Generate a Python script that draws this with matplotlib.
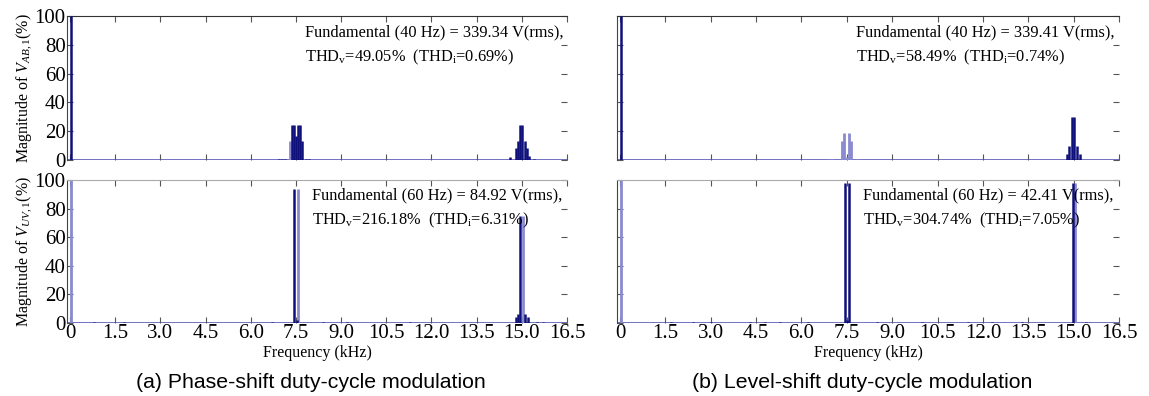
import numpy as np
import matplotlib.pyplot as plt

plt.rcParams['font.family'] = 'Liberation Serif'
plt.rcParams['mathtext.fontset'] = 'custom'
plt.rcParams['mathtext.rm'] = 'Liberation Serif'
plt.rcParams['mathtext.it'] = 'Liberation Serif:italic'

# spectra: frequency (kHz), magnitude (%), shade (1 = dark, 0 = light)
# (a) phase-shift, V_AB
fA_top = [0.04, 6.95, 7.05, 7.15, 7.30, 7.38, 7.43, 7.50, 7.57, 7.62, 7.70, 7.85, 7.95,
          14.60, 14.80, 14.88, 14.95, 15.02, 15.10, 15.18, 15.25, 15.40]
mA_top = [100, 1, 1, 1, 13, 24, 24, 17, 24, 24, 13, 1, 1,
          2, 8, 13, 24, 24, 13, 8, 3, 1]
sA_top = [1, 1, 1, 1, 0, 1, 1, 1, 1, 1, 1, 1, 1,
          1, 1, 1, 1, 1, 1, 1, 1, 1]
# (b) level-shift, V_AB
fB_top = [0.04, 6.90, 7.00, 7.33, 7.40, 7.50, 7.58, 7.64, 7.80, 7.90,
          14.78, 14.86, 14.96, 15.02, 15.12, 15.20]
mB_top = [100, 1, 1, 13, 19, 2, 19, 13, 1, 1,
          4, 10, 30, 30, 10, 4]
sB_top = [1, 0, 0, 0, 0, 0, 0, 0, 0, 0,
          1, 1, 1, 1, 1, 1]
# (a) phase-shift, V_UV
fA_bot = [0.04, 0.8, 1.8, 6.7, 7.45, 7.52, 7.57, 8.4, 9.2, 11.3,
          14.80, 14.88, 14.95, 15.03, 15.10, 15.20, 15.50, 15.70]
mA_bot = [100, 1, 1, 1, 94, 2, 94, 1, 1, 1,
          4, 6, 75, 75, 6, 4, 1, 1]
sA_bot = [0, 1, 1, 1, 1, 1, 0, 1, 1, 1,
          1, 1, 1, 0, 1, 1, 1, 1]
# (b) level-shift, V_UV
fB_bot = [0.04, 1.7, 2.4, 3.0, 4.3, 4.8, 5.3, 6.2, 7.45, 7.52, 7.58, 8.5,
          10.0, 11.5, 12.3, 13.3, 14.97, 15.03, 15.40]
mB_bot = [100, 1, 1, 1, 1, 1, 1, 1, 98, 2, 98, 1,
          1, 1, 1, 1, 98, 98, 1]
sB_bot = [0, 1, 1, 1, 1, 1, 1, 1, 1, 1, 1, 1,
          1, 1, 1, 1, 1, 0, 1]

notes_top = [("Fundamental (40 Hz) = 339.34 V(rms),", r"THD$_{\mathrm{v}}$=49.05%  (THD$_{\mathrm{i}}$=0.69%)"),
             ("Fundamental (40 Hz) = 339.41 V(rms),", r"THD$_{\mathrm{v}}$=58.49%  (THD$_{\mathrm{i}}$=0.74%)")]
notes_bot = [("Fundamental (60 Hz) = 84.92 V(rms),", r"THD$_{\mathrm{v}}$=216.18%  (THD$_{\mathrm{i}}$=6.31%)"),
             ("Fundamental (60 Hz) = 42.41 V(rms),", r"THD$_{\mathrm{v}}$=304.74%  (THD$_{\mathrm{i}}$=7.05%)")]
captions = ["(a) Phase-shift duty-cycle modulation", "(b) Level-shift duty-cycle modulation"]
xticks = [0, 1.5, 3.0, 4.5, 6.0, 7.5, 9.0, 10.5, 12.0, 13.5, 15.0, 16.5]
xlabels = ['0', '1.5', '3.0', '4.5', '6.0', '7.5', '9.0', '10.5', '12.0', '13.5', '15.0', '16.5']

dark = '#10107a'
light = '#8a8ad0'
base = '#5a5ab8'

fig = plt.figure(figsize=(11.49, 3.96), dpi=100)

lefts = [67/1149, 617/1149]
widths = [500/1149, 502/1149]
top_box = (1-160/396, 144/396)
bot_box = (1-323/396, 143/396)

def draw(ax, f, m, s, note, is_top, show_y, ylab, tx, ty):
    f = np.array(f); m = np.array(m); s = np.array(s)
    ax.plot([-0.1, 16.5], [0, 0], color=base, lw=1.2, zorder=1)
    ax.vlines(f[s == 0], 0, m[s == 0], color=light, lw=2.0, zorder=2)
    ax.vlines(f[s == 1], 0, m[s == 1], color=dark, lw=1.8, zorder=3)
    ax.set_xlim(-0.1, 16.5)
    ax.set_ylim(0, 100)
    ax.set_xticks(xticks)
    ax.set_yticks([0, 20, 40, 60, 80, 100])
    ax.tick_params(direction='in', top=True, right=True, length=4, color='#555555',
                   labelsize=15, pad=1)
    ax.spines['right'].set_visible(False)
    ax.spines['bottom'].set_visible(False)
    ax.spines['top'].set_color('#333333' if is_top else '#aaaaaa')
    ax.spines['left'].set_color('#444444')
    if show_y:
        ax.set_ylabel(ylab, fontsize=11.5, labelpad=0)
    else:
        ax.set_yticklabels([])
    if is_top:
        ax.set_xticklabels([])
    else:
        ax.set_xticklabels(xlabels)
        ax.set_xlabel('Frequency (kHz)', fontsize=11.5, labelpad=1)
    ax.text(tx, ty[0], note[0], transform=ax.transAxes, fontsize=11.8, va='center')
    ax.text(tx, ty[1], note[1], transform=ax.transAxes, fontsize=11.8, va='center')

data_top = [(fA_top, mA_top, sA_top), (fB_top, mB_top, sB_top)]
data_bot = [(fA_bot, mA_bot, sA_bot), (fB_bot, mB_bot, sB_bot)]

for i in range(2):
    ax1 = fig.add_axes([lefts[i], top_box[0], widths[i], top_box[1]])
    draw(ax1, *data_top[i], notes_top[i], True, i == 0, r'Magnitude of $V_{AB,1}$(%)',
         0.476, (0.889, 0.715))
    ax2 = fig.add_axes([lefts[i], bot_box[0], widths[i], bot_box[1]])
    draw(ax2, *data_bot[i], notes_bot[i], False, i == 0, r'Magnitude of $V_{UV,1}$(%)',
         0.49, (0.895, 0.72))
    fig.text(lefts[i] + widths[i]/2 - 0.005, 1-382/396, captions[i], family='Liberation Sans',
             fontsize=15.3, ha='center', va='center')

fig.savefig('out.png', dpi=100)
